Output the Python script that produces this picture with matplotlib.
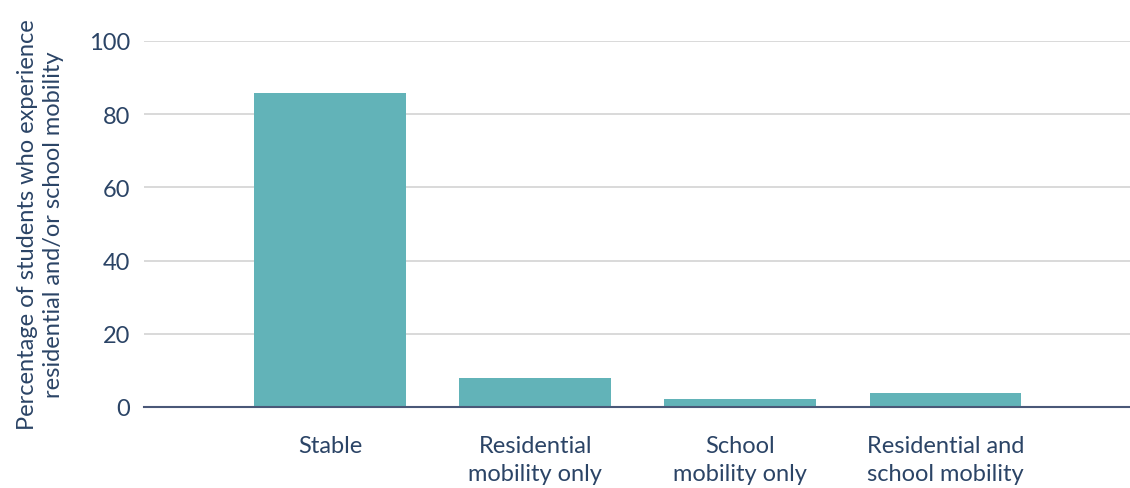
import matplotlib.pyplot as plt

categories = ['Stable', 'Residential\nmobility only', 'School\nmobility only', 'Residential and\nschool mobility']
percentages = [85.8, 7.9, 2.3, 3.8]
yticks = [0, 20, 40, 60, 80, 100]

bar_color = '#62B3B8'
text_color = '#2B4466'

plt.rcParams['font.family'] = ['Lato', 'DejaVu Sans']

fig = plt.figure(figsize=(11.3, 4.89), dpi=100)
ax = fig.add_axes([144 / 1130, 1 - 408 / 489, (1130 - 144) / 1130, 366 / 489])

x = list(range(len(categories)))
ax.bar(x, percentages, width=0.74, color=bar_color, zorder=2)

ax.set_xlim(-0.907, 3.9)
ax.set_ylim(0, 100)
ax.set_yticks(yticks)
ax.yaxis.grid(True, color='#D3D3D3', linewidth=1.2, zorder=0)
ax.set_axisbelow(True)

for side in ['top', 'right', 'left']:
    ax.spines[side].set_visible(False)
ax.spines['bottom'].set_color('#4A5878')
ax.spines['bottom'].set_linewidth(1.5)
ax.spines['bottom'].set_zorder(3)

ax.set_xticks(x)
ax.set_xticklabels(categories, fontsize=17, color=text_color, linespacing=1.45)
ax.tick_params(axis='x', length=0, pad=20)
ax.tick_params(axis='y', length=0, pad=10, labelsize=17, labelcolor=text_color)

ax.set_ylabel('Percentage of students who experience\nresidential and/or school mobility',
              fontsize=17, color=text_color, linespacing=1.3, labelpad=18)

fig.savefig('out.png', dpi=100)
